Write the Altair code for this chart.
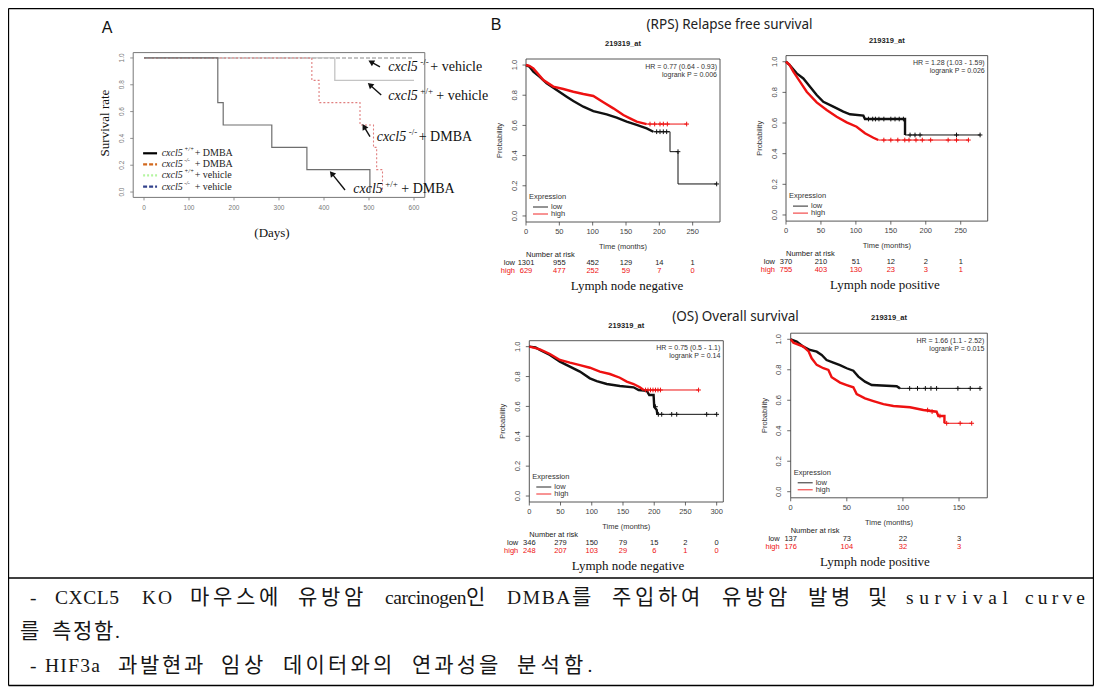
import math
import altair as alt
import pandas as pd

OFF = 8          # page margin; chart coords = page coords - OFF
W, H = 1086, 679

# ------------------------------------------------------------------
# DATA
# ------------------------------------------------------------------
# Panel A : mouse survival (days vs survival rate), step functions
A_X_TICKS = [0, 100, 200, 300, 400, 500, 600]
PROB_TICKS = [0.0, 0.2, 0.4, 0.6, 0.8, 1.0]
A_WT_DMBA_T = [0, 164, 176, 284, 362, 502]
A_WT_DMBA_S = [1.0, 0.667, 0.5, 0.333, 0.167, 0.0]
A_KO_DMBA_T = [0, 373, 389, 480, 510, 517, 530]
A_KO_DMBA_S = [1.0, 0.833, 0.667, 0.5, 0.333, 0.167, 0.0]
A_WT_VEH_T = [0, 424, 600]
A_WT_VEH_S = [1.0, 0.833, 0.833]
A_KO_VEH_T = [0, 600]
A_KO_VEH_S = [1.0, 1.0]
A_GENO = ["+/+", "-/-", "+/+", "-/-"]
A_TREAT = ["+ DMBA", "+ DMBA", "+ vehicle", "+ vehicle"]
# annotations (arrow labels) in data coordinates
A_NOTE_DAY = [542.9, 542.9, 517.1, 465.1]
A_NOTE_SURV = [0.931, 0.719, 0.408, 0.022]
A_NOTE_GENO = ["-/-", "+/+", "-/-", "+/+"]
A_NOTE_TREAT = ["+ vehicle", "+ vehicle", "+ DMBA", "+ DMBA"]
A_ARROW_HEAD_DAY = [504.4, 502.2, 488.9, 417.1]
A_ARROW_HEAD_SURV = [0.970, 0.799, 0.488, 0.139]
A_ARROW_TAIL_DAY = [524.4, 527.1, 502.2, 446.7]
A_ARROW_TAIL_SURV = [0.933, 0.724, 0.413, 0.015]

# Panel B : KM plots (months vs probability)
B1_TICKS = [0, 50, 100, 150, 200, 250]
B1_LOW_T = [0, 5, 11, 21, 31, 46, 61, 71, 86, 101, 121, 136, 151, 166, 181, 191, 216, 216, 228, 228, 286]
B1_LOW_P = [1.0, 0.99, 0.956, 0.92, 0.879, 0.834, 0.79, 0.762, 0.724, 0.695, 0.673, 0.651, 0.625, 0.603, 0.58,
            0.558, 0.558, 0.426, 0.426, 0.212, 0.212]
B1_HIGH_T = [0, 5, 11, 26, 41, 56, 71, 86, 101, 116, 131, 146, 156, 166, 181, 241]
B1_HIGH_P = [1.0, 0.995, 0.978, 0.90, 0.857, 0.841, 0.823, 0.808, 0.795, 0.753, 0.713, 0.669, 0.647, 0.625,
             0.609, 0.609]
B1_LOW_CENS_T = [196, 201, 206, 211, 228, 286]
B1_LOW_CENS_P = [0.558, 0.558, 0.558, 0.558, 0.426, 0.212]
B1_HIGH_CENS_T = [186, 193, 201, 206, 212, 241]
B1_HIGH_CENS_P = [0.609, 0.609, 0.609, 0.609, 0.609, 0.609]
B1_RISK_LOW = [1301, 955, 452, 129, 14, 1]
B1_RISK_HIGH = [629, 477, 252, 59, 7, 0]

B2_TICKS = [0, 50, 100, 150, 200, 250]
B2_LOW_T = [0, 5, 15.3, 24.8, 34.4, 43.9, 53.4, 67.7, 82, 91.6, 110.7, 113, 170.3, 170.3, 277.7]
B2_LOW_P = [1.0, 0.98, 0.924, 0.891, 0.837, 0.783, 0.739, 0.707, 0.674, 0.657, 0.648, 0.626, 0.626, 0.522, 0.522]
B2_HIGH_T = [0, 5, 10.5, 20, 29.6, 43.9, 58.2, 72.5, 86.8, 101, 113, 125, 132, 261]
B2_HIGH_P = [1.0, 0.98, 0.935, 0.87, 0.804, 0.735, 0.685, 0.641, 0.604, 0.576, 0.533, 0.504, 0.489, 0.489]
B2_LOW_CENS_T = [118, 124, 128, 133, 140, 150, 156, 162, 168, 177.5, 184.6, 191.8, 244, 277.7]
B2_LOW_CENS_P = [0.626, 0.626, 0.626, 0.626, 0.626, 0.626, 0.626, 0.626, 0.626, 0.522, 0.522, 0.522, 0.522, 0.522]
B2_HIGH_CENS_T = [140, 150, 160, 170, 176, 186, 195, 207, 232, 244, 261]
B2_HIGH_CENS_P = [0.489, 0.489, 0.489, 0.489, 0.489, 0.489, 0.489, 0.489, 0.489, 0.489, 0.489]
B2_RISK_LOW = [370, 210, 51, 12, 2, 1]
B2_RISK_HIGH = [755, 403, 130, 23, 3, 1]

B3_TICKS = [0, 50, 100, 150, 200, 250, 300]
B3_LOW_T = [0, 10, 17, 33, 49, 65, 81, 97, 108, 124, 145, 167, 175, 188, 192, 199, 200, 204, 205, 300]
B3_LOW_P = [1.0, 0.995, 0.978, 0.944, 0.90, 0.866, 0.833, 0.788, 0.770, 0.75, 0.737, 0.728, 0.71, 0.705, 0.676,
            0.676, 0.598, 0.576, 0.547, 0.547]
B3_HIGH_T = [0, 10, 17, 33, 49, 65, 81, 97, 113, 129, 145, 156, 167, 177, 183, 271]
B3_HIGH_P = [1.0, 0.99, 0.982, 0.951, 0.911, 0.893, 0.877, 0.859, 0.833, 0.817, 0.792, 0.766, 0.75, 0.728,
             0.71, 0.71]
B3_LOW_CENS_T = [202, 206.6, 212, 228, 236, 284, 300]
B3_LOW_CENS_P = [0.598, 0.547, 0.547, 0.547, 0.547, 0.547, 0.547]
B3_HIGH_CENS_T = [186, 190, 194, 198, 202, 206, 210, 271]
B3_HIGH_CENS_P = [0.71, 0.71, 0.71, 0.71, 0.71, 0.71, 0.71, 0.71]
B3_RISK_LOW = [346, 279, 150, 79, 15, 2, 0]
B3_RISK_HIGH = [248, 207, 103, 29, 6, 1, 0]

B4_TICKS = [0, 50, 100, 150]
B4_LOW_T = [0, 5.3, 11.3, 17.2, 23.2, 27.6, 32, 38, 43.9, 49.9, 55.8, 60.3, 66.2, 72.2, 94.4, 97.4, 168.7]
B4_LOW_P = [1.0, 0.985, 0.952, 0.93, 0.919, 0.897, 0.864, 0.847, 0.831, 0.81, 0.794, 0.755, 0.722, 0.70,
            0.692, 0.678, 0.678]
B4_HIGH_T = [0, 2.4, 11.3, 16, 18.7, 23.2, 29.1, 33.6, 36.5, 44, 49.9, 55.8, 58.8, 66.2, 73.7, 82.6, 91.5,
             106.3, 118.2, 130, 131.6, 137, 137, 161.3]
B4_HIGH_P = [1.0, 0.978, 0.952, 0.92, 0.875, 0.832, 0.81, 0.799, 0.751, 0.716, 0.70, 0.685, 0.641, 0.613,
             0.595, 0.575, 0.562, 0.554, 0.536, 0.525, 0.497, 0.497, 0.449, 0.449]
B4_LOW_CENS_T = [106, 113, 120, 125, 130, 149, 160, 168.7]
B4_LOW_CENS_P = [0.678, 0.678, 0.678, 0.678, 0.678, 0.678, 0.678, 0.678]
B4_HIGH_CENS_T = [122, 126, 133, 139, 151, 161.3]
B4_HIGH_CENS_P = [0.536, 0.525, 0.497, 0.449, 0.449, 0.449]
B4_RISK_LOW = [137, 73, 22, 3]
B4_RISK_HIGH = [176, 104, 32, 3]

B_STATS = [("HR = 0.77 (0.64 - 0.93)", "logrank P = 0.006"),
           ("HR = 1.28 (1.03 - 1.59)", "logrank P = 0.026"),
           ("HR = 0.75 (0.5 - 1.1)", "logrank P = 0.14"),
           ("HR = 1.66 (1.1 - 2.52)", "logrank P = 0.015")]
B_SUBTITLES = ["Lymph node negative", "Lymph node positive", "Lymph node negative", "Lymph node positive"]
PROBE = "219319_at"

# description text (words)
DESC_LINE1 = ["-", "CXCL5", "KO", "마우스에", "유방암", "carcinogen인", "DMBA를", "주입하여", "유방암", "발병", "및",
              "survival", "curve"]
DESC_LINE2 = ["를", "측정함."]
DESC_LINE3 = ["-", "HIF3a", "과발현과", "임상", "데이터와의", "연과성을", "분석함."]

# ------------------------------------------------------------------
# HELPERS
# ------------------------------------------------------------------
SANS = "Liberation Sans"
SERIF = "Liberation Serif"


def make_panel(xd, xr, yd, yr):
    return dict(xd=xd, yd=yd, left=xr[0], right=xr[1], bottom=yr[0], top=yr[1],
                xs=alt.Scale(domain=xd, range=[xr[0] - OFF, xr[1] - OFF], nice=False, zero=False),
                ys=alt.Scale(domain=yd, range=[yr[0] - OFF, yr[1] - OFF], nice=False, zero=False))


def X(p, f):
    return alt.X(f, type="quantitative", scale=p["xs"], axis=None)


def Y(p, f):
    return alt.Y(f, type="quantitative", scale=p["ys"], axis=None)


def PX(f):
    return alt.X(f, type="quantitative", scale=None, axis=None)


def PY(f):
    return alt.Y(f, type="quantitative", scale=None, axis=None)


def v(page_coord):
    return alt.value(page_coord - OFF)


def texts(rows, **mk):
    df = pd.DataFrame(rows, columns=["x", "y", "text"])
    df["x"] = df["x"] - OFF
    df["y"] = df["y"] - OFF
    return alt.Chart(df).mark_text(**mk).encode(x=PX("x"), y=PY("y"), text="text:N")


def plines(rows, **mk):
    df = pd.DataFrame(rows, columns=["x", "y", "x2", "y2"]) - OFF
    return alt.Chart(df).mark_rule(**mk).encode(x=PX("x"), y=PY("y"), x2=alt.X2("x2"), y2=alt.Y2("y2"))


def frame(p, color, sw=1.0):
    df = pd.DataFrame({"a": [p["xd"][0]], "b": [p["xd"][1]], "c": [p["yd"][0]], "d": [p["yd"][1]]})
    return alt.Chart(df).mark_rect(fillOpacity=0, stroke=color, strokeWidth=sw).encode(
        x=X(p, "a"), x2=alt.X2("b"), y=Y(p, "c"), y2=alt.Y2("d"))


def axes(p, xt, yt, fs, color, font, tl=3.5, xdy=10, ydx=11.5):
    dfx = pd.DataFrame({"v": xt, "lab": [str(t) for t in xt]})
    dfy = pd.DataFrame({"v": yt, "lab": ["%.1f" % t for t in yt]})
    return [
        alt.Chart(dfx).mark_rule(color=color, strokeWidth=0.8).encode(
            x=X(p, "v"), y=v(p["bottom"]), y2=v(p["bottom"] + tl)),
        alt.Chart(dfx).mark_text(fontSize=fs, color=color, font=font, baseline="middle").encode(
            x=X(p, "v"), y=v(p["bottom"] + xdy), text="lab:N"),
        alt.Chart(dfy).mark_rule(color=color, strokeWidth=0.8).encode(
            y=Y(p, "v"), x=v(p["left"]), x2=v(p["left"] - tl)),
        alt.Chart(dfy).mark_text(fontSize=fs, color=color, font=font, baseline="middle", angle=270).encode(
            y=Y(p, "v"), x=v(p["left"] - ydx), text="lab:N"),
    ]


def curve(p, ts, ps, color, width, interp="linear", dash=None):
    df = pd.DataFrame({"t": ts, "p": ps, "i": range(len(ts))})
    kw = dict(color=color, strokeWidth=width, interpolate=interp)
    if dash:
        kw["strokeDash"] = dash
    return alt.Chart(df).mark_line(**kw).encode(x=X(p, "t"), y=Y(p, "p"), order="i:Q")


def km(p, ts, ps, color, dense_to):
    k = max(i for i, t in enumerate(ts) if t <= dense_to)
    return [curve(p, ts[:k + 1], ps[:k + 1], color, 2.4), curve(p, ts[k:], ps[k:], color, 1.0)]


def censor(p, ts, ps, color):
    df = pd.DataFrame({"t": ts, "p": ps})
    return alt.Chart(df).mark_point(shape="M-1,0L1,0M0,-1L0,1", filled=False, size=22, strokeWidth=1,
                                    color=color, opacity=1).encode(x=X(p, "t"), y=Y(p, "p"))


# glyph advance widths (em) of Liberation Serif, used to spread justified words
LAT_W = {"C": .667, "X": .722, "L": .611, "5": .5, "K": .722, "O": .722, "D": .722, "M": .889, "B": .667,
         "A": .722, "H": .722, "I": .333, "F": .556, "3": .5, "a": .444, "c": .444, "r": .333, "i": .278,
         "n": .5, "o": .5, "g": .5, "e": .444, "s": .389, "u": .5, "v": .5, "l": .278, "-": .333, ".": .25}
KFS, LFS = 21, 19.5


def is_hangul(ch):
    return "\uac00" <= ch <= "\ud7a3"


def layout_word(word, start, end, y, cap=99.0):
    ws = [KFS if is_hangul(ch) else LAT_W.get(ch, 0.5) * LFS for ch in word]
    gap = 0.0
    if end is not None and len(word) > 1:
        gap = min(cap, ((end - start) - sum(ws)) / (len(word) - 1))
    out, x = [], start
    for ch, w in zip(word, ws):
        out.append((x, y, ch, is_hangul(ch)))
        x += w + gap
    return out


# ------------------------------------------------------------------
# PANELS (frames in page coordinates)
# ------------------------------------------------------------------
PA = make_panel([-24, 624], [133.2, 424.8], [-0.04, 1.04], [197.4, 52.6])
PB = [make_panel([0, 291], [526, 720], [-0.04, 1.04], [222.0, 59.0]),
      make_panel([0, 288.6], [786, 987.7], [-0.04, 1.04], [221.1, 55.6]),
      make_panel([0, 310.6], [529.3, 723.3], [-0.04, 1.04], [502.0, 340.7]),
      make_panel([0, 175.2], [790.7, 987.3], [-0.04, 1.04], [497.8, 333.2])]

layers = []

# ---------------- table borders ----------------
layers.append(plines([(8.5, 8.5, 1093.5, 8.5), (8.5, 685.5, 1093.5, 685.5), (8.5, 8.5, 8.5, 685.5),
                      (1093.5, 8.5, 1093.5, 685.5), (8.5, 578, 1093.5, 578)], color="#000", strokeWidth=1.3))

# ---------------- Panel A ----------------
layers.append(texts([(107, 28, "A"), (496, 25, "B")], fontSize=16, font=SANS, color="#111"))
layers.append(frame(PA, "#777", 1))
layers += axes(PA, A_X_TICKS, PROB_TICKS, 6.5, "#777", SANS, tl=3, xdy=11, ydx=11)
layers.append(texts([(105, 123, "Survival rate")], fontSize=13, font=SERIF, angle=270, color="#111"))
layers.append(texts([(272, 233, "(Days)")], fontSize=13, font=SERIF, color="#111"))

layers.append(curve(PA, A_KO_VEH_T, A_KO_VEH_S, "#8a8a8a", 1.1, "step-after", [4, 2]))
layers.append(curve(PA, A_WT_VEH_T, A_WT_VEH_S, "#c4c4c4", 1.3, "step-after"))
layers.append(curve(PA, A_KO_DMBA_T, A_KO_DMBA_S, "#e07f7f", 1.1, "step-after", [2, 2]))
layers.append(curve(PA, A_WT_DMBA_T, A_WT_DMBA_S, "#6e6e6e", 1.2, "step-after"))

# legend (in data coords of panel A)
LEG_SURV = [0.289, 0.207, 0.125, 0.040]
LEG_STYLE = [("#000000", None), ("#d2691e", [4, 2]), ("#b4f5a0", [2, 2]), ("#33428c", [4, 2])]
for sv, (col, dash) in zip(LEG_SURV, LEG_STYLE):
    layers.append(curve(PA, [-2, 29], [sv, sv], col, 2.2, "linear", dash))
leg_df = pd.DataFrame({"d": [39.3] * 4, "s": LEG_SURV, "g": A_GENO, "t": A_TREAT})
layers.append(alt.Chart(leg_df).mark_text(align="left", baseline="middle", fontSize=10, font=SERIF,
                                          fontStyle="italic", color="#222").encode(
    x=X(PA, "d"), y=Y(PA, "s"), text=alt.value("cxcl5")))
layers.append(alt.Chart(leg_df).mark_text(align="left", baseline="middle", fontSize=6, font=SERIF,
                                          fontStyle="italic", dx=22.5, dy=-4, color="#222").encode(
    x=X(PA, "d"), y=Y(PA, "s"), text="g:N"))
layers.append(alt.Chart(leg_df).mark_text(align="left", baseline="middle", fontSize=10, font=SERIF,
                                          dx=33, color="#222").encode(
    x=X(PA, "d"), y=Y(PA, "s"), text="t:N"))

# arrows
arr_df = pd.DataFrame({"hd": A_ARROW_HEAD_DAY, "hs": A_ARROW_HEAD_SURV,
                       "td": A_ARROW_TAIL_DAY, "ts": A_ARROW_TAIL_SURV})
arr_df["ang"] = [math.degrees(math.atan2((hd - td) * 0.45, (hs - ts) * 134.0))
                 % 360 for hd, hs, td, ts in zip(arr_df.hd, arr_df.hs, arr_df.td, arr_df.ts)]
layers.append(alt.Chart(arr_df).mark_rule(color="#111", strokeWidth=1.4).encode(
    x=X(PA, "td"), y=Y(PA, "ts"), x2=alt.X2("hd"), y2=alt.Y2("hs")))
layers.append(alt.Chart(arr_df).mark_point(shape="triangle-up", filled=True, size=45, color="#111",
                                           opacity=1).encode(
    x=X(PA, "hd"), y=Y(PA, "hs"), angle=alt.Angle("ang:Q", scale=None)))

# arrow labels
note_df = pd.DataFrame({"d": A_NOTE_DAY, "s": A_NOTE_SURV, "g": A_NOTE_GENO, "t": A_NOTE_TREAT})
layers.append(alt.Chart(note_df).mark_text(align="left", baseline="middle", fontSize=14, font=SERIF,
                                           fontStyle="italic", color="#111").encode(
    x=X(PA, "d"), y=Y(PA, "s"), text=alt.value("cxcl5")))
layers.append(alt.Chart(note_df).mark_text(align="left", baseline="middle", fontSize=9, font=SERIF,
                                           dx=32, dy=-5, color="#111").encode(
    x=X(PA, "d"), y=Y(PA, "s"), text="g:N"))
for g, dx in (("+/+", 48), ("-/-", 42)):
    layers.append(alt.Chart(note_df).transform_filter(alt.datum.g == g).mark_text(
        align="left", baseline="middle", fontSize=14, font=SERIF, dx=dx, color="#111").encode(
        x=X(PA, "d"), y=Y(PA, "s"), text="t:N"))

# ---------------- Panel B ----------------
layers.append(texts([(729.5, 25, "(RPS) Relapse free survival"), (735.5, 317, "(OS) Overall survival")],
                    fontSize=13.5, font="Noto Sans", color="#222"))

B_DATA = [
    (B1_TICKS, B1_LOW_T, B1_LOW_P, B1_HIGH_T, B1_HIGH_P, B1_LOW_CENS_T, B1_LOW_CENS_P, B1_HIGH_CENS_T,
     B1_HIGH_CENS_P, B1_RISK_LOW, B1_RISK_HIGH, 212, 212),
    (B2_TICKS, B2_LOW_T, B2_LOW_P, B2_HIGH_T, B2_HIGH_P, B2_LOW_CENS_T, B2_LOW_CENS_P, B2_HIGH_CENS_T,
     B2_HIGH_CENS_P, B2_RISK_LOW, B2_RISK_HIGH, 170.3, 140),
    (B3_TICKS, B3_LOW_T, B3_LOW_P, B3_HIGH_T, B3_HIGH_P, B3_LOW_CENS_T, B3_LOW_CENS_P, B3_HIGH_CENS_T,
     B3_HIGH_CENS_P, B3_RISK_LOW, B3_RISK_HIGH, 205, 183),
    (B4_TICKS, B4_LOW_T, B4_LOW_P, B4_HIGH_T, B4_HIGH_P, B4_LOW_CENS_T, B4_LOW_CENS_P, B4_HIGH_CENS_T,
     B4_HIGH_CENS_P, B4_RISK_LOW, B4_RISK_HIGH, 97.4, 137),
]
SUB_X = [627, 885, 628, 875]
RED = "#ee1111"
for i, (p, d) in enumerate(zip(PB, B_DATA)):
    ticks, lt, lp, ht, hp, lct, lcp, hct, hcp, rl, rh, ldense, hdense = d
    cx = (p["left"] + p["right"]) / 2
    layers.append(frame(p, "#444", 0.9))
    layers += axes(p, ticks, PROB_TICKS, 7.5, "#444", SANS, tl=3.5, xdy=10, ydx=11.5)
    layers.append(texts([(cx, p["top"] - 15, PROBE)], fontSize=7.5, font=SANS, fontWeight="bold",
                        color="#222"))
    layers.append(texts([(p["left"] - 26, (p["top"] + p["bottom"]) / 2, "Probability")], fontSize=7.5,
                        font=SANS, angle=270, color="#333"))
    layers.append(texts([(cx, p["bottom"] + 25, "Time (months)")], fontSize=7.5, font=SANS, color="#333"))
    layers.append(texts([(p["right"] - 3, p["top"] + 7.5, B_STATS[i][0]),
                         (p["right"] - 3, p["top"] + 15.5, B_STATS[i][1])],
                        fontSize=7, font=SANS, align="right", color="#333"))
    # legend
    layers.append(texts([(p["left"] + 3, p["bottom"] - 25, "Expression")], fontSize=7.5, font=SANS,
                        align="left", color="#333"))
    layers.append(plines([(p["left"] + 7, p["bottom"] - 15, p["left"] + 22, p["bottom"] - 15)],
                         color="#111", strokeWidth=0.9))
    layers.append(plines([(p["left"] + 7, p["bottom"] - 8, p["left"] + 22, p["bottom"] - 8)],
                         color=RED, strokeWidth=0.9))
    layers.append(texts([(p["left"] + 25, p["bottom"] - 15, "low"), (p["left"] + 25, p["bottom"] - 8, "high")],
                        fontSize=7.5, font=SANS, align="left", color="#333"))
    # curves
    layers += km(p, lt, lp, "#111111", ldense)
    layers += km(p, ht, hp, RED, hdense)
    layers.append(censor(p, lct, lcp, "#111111"))
    layers.append(censor(p, hct, hcp, RED))
    # number at risk
    layers.append(texts([(p["left"], p["bottom"] + 33, "Number at risk")], fontSize=7.5, font=SANS,
                        align="left", color="#222"))
    layers.append(texts([(p["left"] - 11, p["bottom"] + 41, "low")], fontSize=7.5, font=SANS, align="right",
                        color="#222"))
    layers.append(texts([(p["left"] - 11, p["bottom"] + 49, "high")], fontSize=7.5, font=SANS, align="right",
                        color=RED))
    risk = pd.DataFrame({"v": ticks, "low": [str(n) for n in rl], "high": [str(n) for n in rh]})
    layers.append(alt.Chart(risk).mark_text(fontSize=7.5, font=SANS, color="#222", baseline="middle").encode(
        x=X(p, "v"), y=v(p["bottom"] + 41), text="low:N"))
    layers.append(alt.Chart(risk).mark_text(fontSize=7.5, font=SANS, color=RED, baseline="middle").encode(
        x=X(p, "v"), y=v(p["bottom"] + 49), text="high:N"))
    layers.append(texts([(SUB_X[i], p["bottom"] + 64, B_SUBTITLES[i])], fontSize=13, font=SERIF,
                        color="#111"))

# ---------------- bottom description text (justified first line) ----------------
L1_SPANS = [(30, None), (55, 119), (142, 172), (190, 280), (298, 365), (385, 487), (507, 593), (612, 702),
            (722, 789), (808, 852), (868, None), (906, 1008), (1025, 1085)]
L2_SPANS = [(20, None), (52, None)]
L3_SPANS = [(30, None), (45, 100), (118, 205), (221, 265), (283, 394), (412, 500), (517, 603)]
glyphs = []
for w, (s, e) in zip(DESC_LINE1, L1_SPANS):
    glyphs += layout_word(w, s, e, 598)
for w, (s, e) in zip(DESC_LINE2, L2_SPANS):
    glyphs += layout_word(w, s, e, 632)
for w, (s, e) in zip(DESC_LINE3, L3_SPANS):
    glyphs += layout_word(w, s, e, 666, cap=2.5)
glyph_h = [(x, y, c) for x, y, c, hg in glyphs if hg]
glyph_l = [(x, y, c) for x, y, c, hg in glyphs if not hg]
layers.append(texts(glyph_h, fontSize=KFS, font="Noto Sans CJK KR", align="left", baseline="middle",
                    color="#161616"))
layers.append(texts(glyph_l, fontSize=LFS, font=SERIF, align="left", baseline="middle", color="#161616"))

chart = alt.layer(*layers).resolve_scale(x="independent", y="independent").properties(
    width=W, height=H, padding=0, autosize=alt.AutoSizeParams(type="none")
).configure_view(stroke=None)

chart.save("out.html", embed_options={"renderer": "svg", "actions": False})
